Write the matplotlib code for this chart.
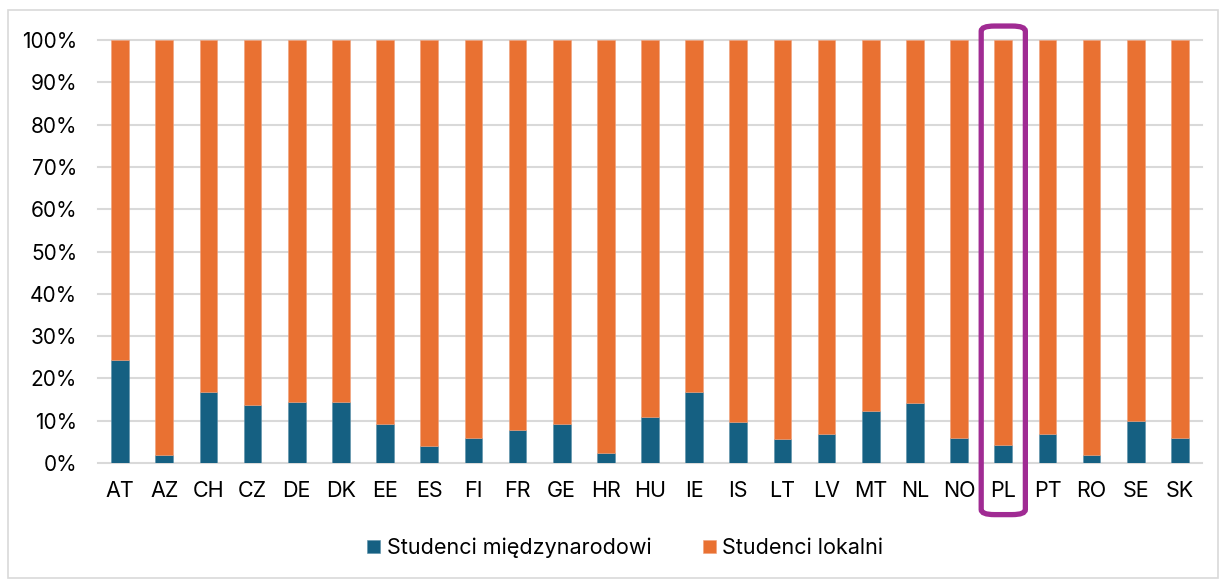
import numpy as np
import matplotlib.pyplot as plt
from matplotlib.patches import FancyBboxPatch, Rectangle
from matplotlib.ticker import PercentFormatter

plt.rcParams['font.family'] = ['Inter', 'DejaVu Sans']

countries = ['AT', 'AZ', 'CH', 'CZ', 'DE', 'DK', 'EE', 'ES', 'FI', 'FR', 'GE', 'HR', 'HU',
             'IE', 'IS', 'LT', 'LV', 'MT', 'NL', 'NO', 'PL', 'PT', 'RO', 'SE', 'SK']
international = [24.4, 1.8, 16.7, 13.8, 14.5, 14.4, 9.2, 4.0, 5.8, 7.8, 9.2, 2.3, 10.9,
                 16.9, 9.7, 5.7, 6.9, 12.2, 14.3, 5.9, 4.2, 6.9, 2.0, 10.0, 5.9]
local = [100 - v for v in international]
highlight = 'PL'

blue = '#156082'
orange = '#E97132'
purple = '#A02B93'
grid_c = '#D9D9D9'

fig = plt.figure(figsize=(12.19, 5.79), dpi=100)
ax = fig.add_axes([98 / 1219, 116 / 579, 1104 / 1219, 423 / 579])

x = np.arange(len(countries))
intl = np.array(international) / 100
loc = np.array(local) / 100
ax.bar(x, intl, width=0.4, color=blue, edgecolor='#5b8fa8', linewidth=0.4,
       label='Studenci międzynarodowi', zorder=3)
ax.bar(x, loc, bottom=intl, width=0.4, color=orange, edgecolor='#f0a07a', linewidth=0.4,
       label='Studenci lokalni', zorder=3)

ax.set_xlim(-0.5, len(countries) - 0.5)
ax.set_ylim(0, 1.0)
ax.set_yticks(np.arange(0, 1.01, 0.1))
ax.yaxis.set_major_formatter(PercentFormatter(1.0, decimals=0))
ax.set_xticks(x)
ax.set_xticklabels(countries)
ax.tick_params(axis='both', length=0, colors='#000000')
ax.tick_params(axis='x', pad=13, labelsize=15.5)
ax.tick_params(axis='y', pad=15, labelsize=15)
for s in ax.spines.values():
    s.set_visible(False)
for yv in np.arange(0, 1.01, 0.1):
    ax.axhline(yv, color=grid_c, linewidth=1.5, zorder=1, clip_on=False)

# highlight box around PL
i = countries.index(highlight)
box = FancyBboxPatch((i - 0.5, -0.122), 1.0, 1.155,
                     boxstyle='round,pad=0,rounding_size=0.3',
                     mutation_aspect=0.04,
                     fill=False, edgecolor=purple, linewidth=3.8, clip_on=False, zorder=5)
ax.add_patch(box)

fig.legend(loc='center', bbox_to_anchor=(0.513, 1 - 548 / 579), ncol=2, frameon=False,
           fontsize=15.5, handlelength=0.6, handleheight=0.6, handletextpad=0.3,
           columnspacing=2.4)

fig.patches.append(Rectangle((8 / 1219, 0.002), 1 - 9 / 1219, 1 - 10 / 579 - 0.002,
                             transform=fig.transFigure, fill=False,
                             edgecolor='#D9D9D9', linewidth=1.2))

fig.savefig('out.png', dpi=100)
